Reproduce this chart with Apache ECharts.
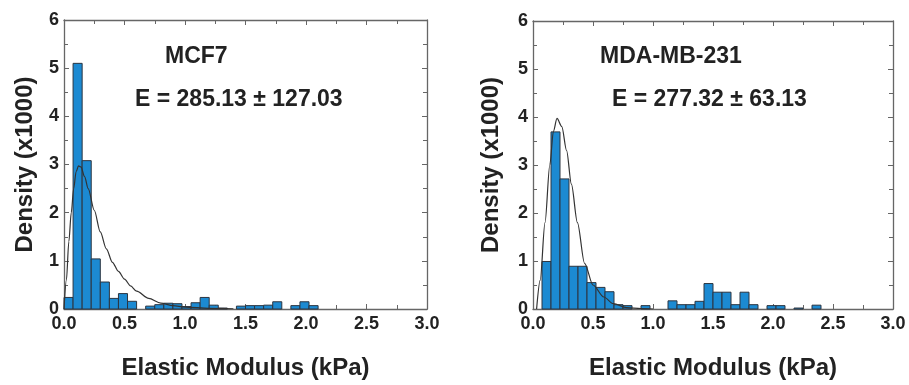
<!DOCTYPE html>
<html>
<head>
<meta charset="utf-8">
<script src="https://cdn.jsdelivr.net/npm/echarts@6/dist/echarts.min.js"></script>
<style>
html,body{margin:0;padding:0;background:#fff;}
#c{width:909px;height:385px;}
</style>
</head>
<body>
<div id="c"></div>
<script>
// ---- data ----
const xTicks = [0, 0.5, 1.0, 1.5, 2.0, 2.5, 3.0];
const yTicks = [0, 1, 2, 3, 4, 5, 6];
const binWidth = 0.075; // kPa per histogram bin, bins start at 0

// MCF7 histogram density (x1000) per bin
const mcf7Density = [0.24, 5.1, 3.08, 1.04, 0.56, 0.22, 0.32, 0.16, 0, 0.06, 0.09, 0.12, 0.11, 0.05,
  0.13, 0.24, 0.08, 0.02, 0, 0.06, 0.07, 0.07, 0.08, 0.15, 0, 0.07, 0.15, 0.07];
// MDA-MB-231 histogram density (x1000) per bin
const mdaDensity = [0, 0.99, 3.69, 2.71, 0.89, 0.89, 0.55, 0.45, 0.36, 0.09, 0.07, 0, 0.07, 0,
  0, 0.17, 0.09, 0.09, 0.16, 0.53, 0.35, 0.35, 0.09, 0.35, 0.09, 0, 0.07, 0.07, 0, 0.02, 0, 0.08];

// fitted curves
const mcf7FitX = [0, 0.02, 0.04, 0.06, 0.08, 0.10, 0.12, 0.14, 0.17, 0.20, 0.25, 0.30, 0.35, 0.40, 0.45, 0.50, 0.55, 0.60, 0.70, 0.80, 0.90, 1.00, 1.20, 1.40];
const mcf7FitY = [0, 0.6, 1.4, 2.0, 2.5, 2.85, 2.97, 2.95, 2.75, 2.5, 2.05, 1.6, 1.25, 0.97, 0.78, 0.62, 0.48, 0.37, 0.22, 0.12, 0.07, 0.04, 0.015, 0.005];
const mdaFitX = [0.03, 0.06, 0.10, 0.14, 0.17, 0.20, 0.24, 0.28, 0.32, 0.37, 0.43, 0.50, 0.59, 0.67, 0.78, 0.90, 1.00];
const mdaFitY = [0, 0.6, 1.8, 3.0, 3.7, 3.97, 3.8, 3.3, 2.6, 1.8, 0.95, 0.5, 0.25, 0.11, 0.03, 0.01, 0];

const titles = ['MCF7', 'MDA-MB-231'];
const stats = ['E = 285.13 \u00b1 127.03', 'E = 277.32 \u00b1 63.13'];
const xName = 'Elastic Modulus (kPa)';
const yName = 'Density (x1000)';

// ---- chart ----
const FONT = '"Liberation Sans", Arial, sans-serif';
const AX = '#666';
const TXT = '#222';

function bins(vals) {
  const out = [];
  vals.forEach((v, i) => { if (v > 0) out.push([i * binWidth, (i + 1) * binWidth, v]); });
  return out;
}
function renderBar(params, api) {
  const p0 = api.coord([api.value(0), 0]);
  const p1 = api.coord([api.value(1), api.value(2)]);
  return {
    type: 'rect',
    shape: { x: p0[0], y: p1[1], width: p1[0] - p0[0], height: p0[1] - p1[1] },
    style: { fill: '#1c8ad2', stroke: '#2c3540', lineWidth: 1 }
  };
}
const xMin = xTicks[0], xMax = xTicks[xTicks.length - 1], xInt = xTicks[1] - xTicks[0];
const yMin = yTicks[0], yMax = yTicks[yTicks.length - 1], yInt = yTicks[1] - yTicks[0];

function xAxes(g) {
  const common = {
    type: 'value', gridIndex: g, min: xMin, max: xMax, interval: xInt,
    axisLine: { show: true, onZero: false, lineStyle: { color: AX, width: 1.3 } },
    axisTick: { show: true, inside: true, length: 5, lineStyle: { color: AX } },
    minorTick: { show: true, splitNumber: 2, length: 4, lineStyle: { color: AX } },
    splitLine: { show: false }
  };
  return [
    Object.assign({}, common, {
      position: 'bottom',
      axisLabel: { show: true, margin: 6, color: TXT, fontFamily: FONT, fontWeight: 'bold', fontSize: 18,
        formatter: v => v.toFixed(1) },
      name: xName, nameLocation: 'middle', nameGap: 47,
      nameTextStyle: { color: TXT, fontFamily: FONT, fontWeight: 'bold', fontSize: 24 }
    }),
    Object.assign({}, common, { position: 'top', axisLabel: { show: false } })
  ];
}
function yAxes(g, gap) {
  const common = {
    type: 'value', gridIndex: g, min: yMin, max: yMax, interval: yInt,
    axisLine: { show: true, onZero: false, lineStyle: { color: AX, width: 1.3 } },
    axisTick: { show: true, inside: true, length: 5, lineStyle: { color: AX } },
    minorTick: { show: true, splitNumber: 2, length: 4, lineStyle: { color: AX } },
    splitLine: { show: false }
  };
  return [
    Object.assign({}, common, {
      position: 'left',
      axisLabel: { show: true, margin: 5, color: TXT, fontFamily: FONT, fontWeight: 'bold', fontSize: 18 },
      name: yName, nameLocation: 'middle', nameGap: gap,
      nameTextStyle: { color: TXT, fontFamily: FONT, fontWeight: 'bold', fontSize: 24 }
    }),
    Object.assign({}, common, { position: 'right', axisLabel: { show: false } })
  ];
}

const chart = echarts.init(document.getElementById('c'), null, { renderer: 'canvas' });
const option = {
  backgroundColor: '#fff',
  animation: false,
  grid: [
    { left: 64, right: 482, top: 20, bottom: 68 },
    { left: 533, right: 16, top: 21, bottom: 68 }
  ],
  xAxis: [...xAxes(0), ...xAxes(1)],
  yAxis: [...yAxes(0, 27), ...yAxes(1, 30)],
  graphic: [
    { type: 'text', left: 165, top: 45, style: { text: titles[0], fill: TXT, font: 'bold 23px ' + FONT } },
    { type: 'text', left: 135, top: 88, style: { text: stats[0], fill: TXT, font: 'bold 23px ' + FONT } },
    { type: 'text', left: 600, top: 45, style: { text: titles[1], fill: TXT, font: 'bold 23px ' + FONT } },
    { type: 'text', left: 612, top: 88, style: { text: stats[1], fill: TXT, font: 'bold 23px ' + FONT } }
  ],
  series: [
    { type: 'custom', xAxisIndex: 0, yAxisIndex: 0, renderItem: renderBar, encode: { x: [0, 1], y: 2 }, data: bins(mcf7Density), z: 2 },
    { type: 'line', xAxisIndex: 0, yAxisIndex: 0, smooth: 0.3, smoothMonotone: 'x', showSymbol: false, symbol: 'none',
      lineStyle: { color: '#333', width: 1.2 }, data: mcf7FitX.map((x, i) => [x, mcf7FitY[i]]), z: 3 },
    { type: 'custom', xAxisIndex: 2, yAxisIndex: 2, renderItem: renderBar, encode: { x: [0, 1], y: 2 }, data: bins(mdaDensity), z: 2 },
    { type: 'line', xAxisIndex: 2, yAxisIndex: 2, smooth: 0.3, smoothMonotone: 'x', showSymbol: false, symbol: 'none',
      lineStyle: { color: '#333', width: 1.2 }, data: mdaFitX.map((x, i) => [x, mdaFitY[i]]), z: 3 }
  ]
};
chart.setOption(option);
</script>
</body>
</html>
